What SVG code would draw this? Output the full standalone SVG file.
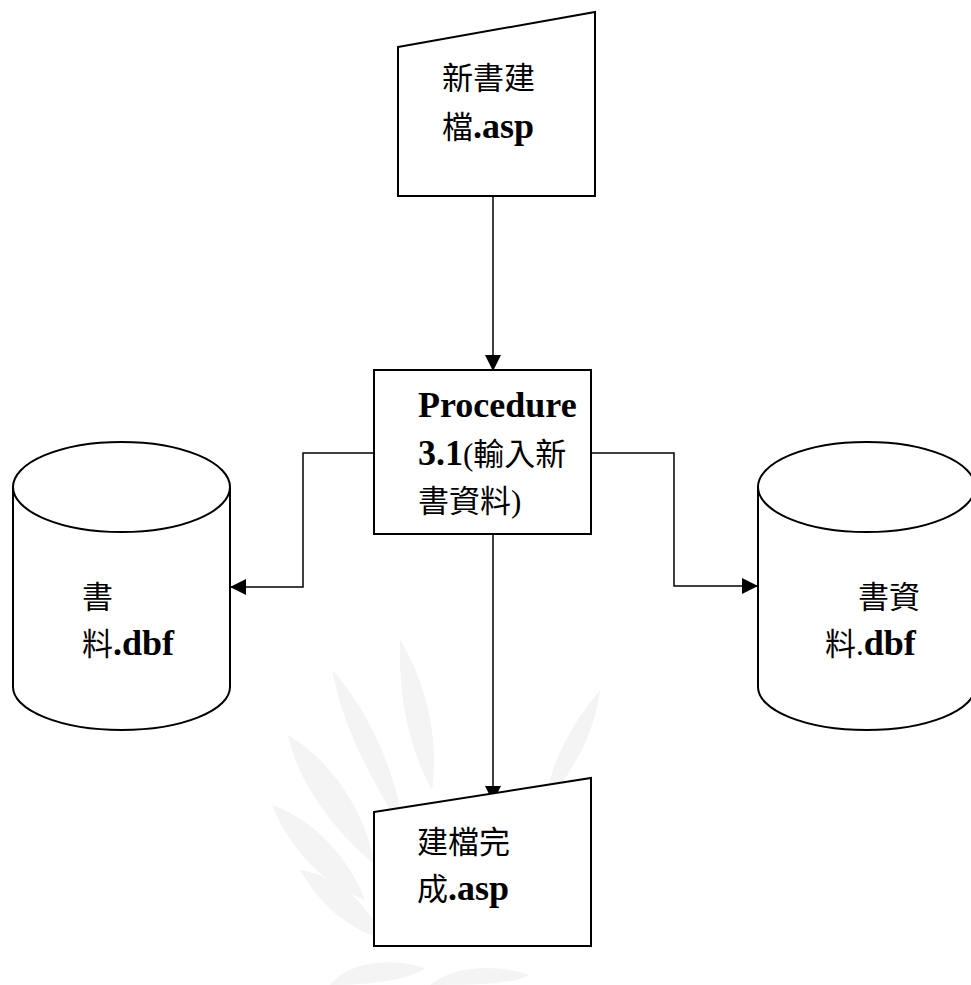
<svg xmlns="http://www.w3.org/2000/svg" width="971" height="985" viewBox="0 0 971 985">
<style>
.shape{fill:#fff;stroke:#000;stroke-width:2}
.conn{fill:none;stroke:#000;stroke-width:1.5}
.cjk{font-family:"Liberation Serif","Noto Sans CJK TC",serif;font-size:31px;fill:#000}
.lat{font-family:"Liberation Serif","Noto Sans CJK TC",serif;font-size:36px;font-weight:bold;fill:#000}
.wm{fill:#f4f4f4;stroke:none}
</style>
<defs>
<marker id="arr" markerWidth="16" markerHeight="16" refX="15" refY="8" orient="auto" markerUnits="userSpaceOnUse">
<path d="M0,0 L16,8 L0,16 Z" fill="#000"/>
</marker>
</defs>
<g id="watermark">
<path class="wm" d="M332,670 C360,700 395,760 405,835 C385,800 345,740 332,670 Z"/>
<path class="wm" d="M400,640 C425,680 440,740 432,790 C410,750 398,700 400,640 Z"/>
<path class="wm" d="M288,735 C330,760 365,810 375,865 C340,835 300,790 288,735 Z"/>
<path class="wm" d="M272,805 C315,820 350,860 365,900 C325,885 290,850 272,805 Z"/>
<path class="wm" d="M300,870 C335,875 365,900 385,940 C350,930 320,905 300,870 Z"/>
<path class="wm" d="M600,690 C575,720 550,760 545,805 C570,775 595,735 600,690 Z"/>
<path class="wm" d="M330,985 C345,965 385,955 425,968 C410,980 370,985 330,985 Z"/>
<path class="wm" d="M430,985 C450,968 490,962 530,975 C510,985 470,985 430,985 Z"/>
</g>
<g id="connectors">
<line class="conn" x1="493" y1="196" x2="493" y2="370" marker-end="url(#arr)"/>
<polyline class="conn" points="374,453 303,453 303,587 231,587" marker-end="url(#arr)"/>
<polyline class="conn" points="591,453 674,453 674,586 757,586" marker-end="url(#arr)"/>
<line class="conn" x1="493" y1="534" x2="493" y2="801" marker-end="url(#arr)"/>
</g>
<g id="node-top">
<polygon class="shape" points="398,47 595,12 595,196 398,196"/>
<text class="cjk" x="442" y="89">新書建</text>
<text x="442" y="138"><tspan class="cjk">檔</tspan><tspan class="lat">.asp</tspan></text>
</g>
<g id="node-procedure">
<rect class="shape" x="374" y="370" width="217" height="164"/>
<text class="lat" x="418" y="417">Procedure</text>
<text x="418" y="465"><tspan class="lat">3.1</tspan><tspan class="cjk">(輸入新</tspan></text>
<text class="cjk" x="418" y="512">書資料)</text>
</g>
<g id="node-left-db">
<path class="shape" d="M13,487 L13,687 A108.5,43 0 0 0 230,687 L230,487"/>
<ellipse class="shape" cx="121.5" cy="487" rx="108.5" ry="45"/>
<text class="cjk" x="82" y="608">書</text>
<text x="82" y="655"><tspan class="cjk">料</tspan><tspan class="lat">.dbf</tspan></text>
</g>
<g id="node-right-db">
<path class="shape" d="M758,487 L758,687 A108.5,43 0 0 0 975,687 L975,487"/>
<ellipse class="shape" cx="866.5" cy="487" rx="108.5" ry="45"/>
<text class="cjk" x="858" y="608">書資</text>
<text x="825" y="655"><tspan class="cjk">料.</tspan><tspan class="lat">dbf</tspan></text>
</g>
<g id="node-bottom">
<polygon class="shape" points="374,812 591,778 591,946 374,946"/>
<text class="cjk" x="417" y="853">建檔完</text>
<text x="417" y="900"><tspan class="cjk">成</tspan><tspan class="lat">.asp</tspan></text>
</g>
</svg>
